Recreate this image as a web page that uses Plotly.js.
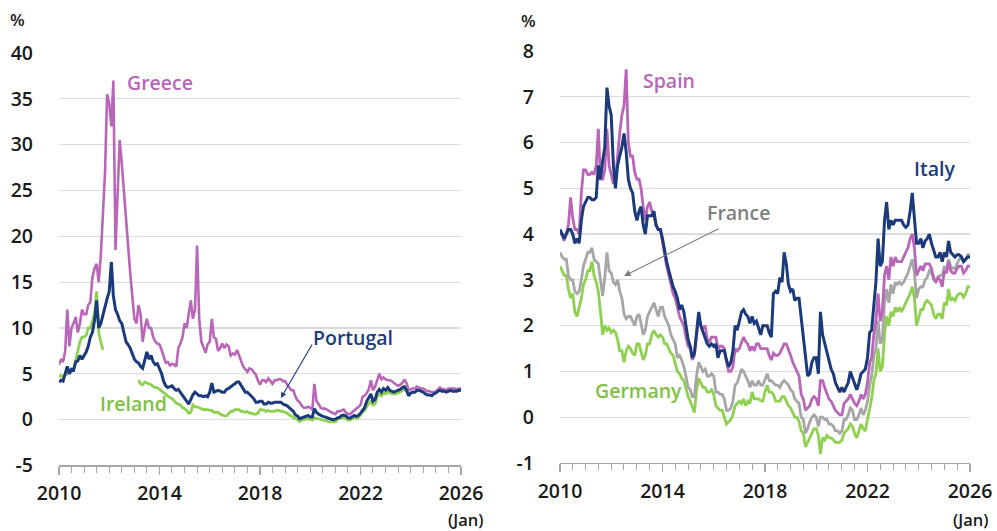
<!DOCTYPE html>
<html>
<head>
<meta charset="utf-8">
<script src="https://cdn.plot.ly/plotly-3.0.1.min.js"></script>
<style>html,body{margin:0;padding:0;background:#fff;}#chart{width:997px;height:531px;}</style>
</head>
<body>
<div id="chart"></div>
<script>
// ---- Data: monthly 10-year government bond yields (%), Jan 2010 – Jan 2026 ----
const startYear = 2010, endYear = 2026;
const months = [];
for (let y = startYear; y < endYear; y++) {
  for (let m = 1; m <= 12; m++) months.push(y + '-' + (m < 10 ? '0' + m : m) + '-01');
}
months.push('2026-01-01');

const greece = [
  6.0, 6.6, 6.3, 7.5, 12.0, 8.0, 10.0, 10.5, 11.2, 9.5, 10.5, 12.0,
  11.5, 11.5, 12.5, 12.8, 15.5, 16.5, 17.0, 15.0, 18.0, 23.0, 27.0, 35.5,
  34.5, 32.0, 37.0, 18.5, 24.5, 30.5, 28.0, 25.0, 21.0, 18.5, 16.0, 13.5,
  11.0, 10.5, 12.5, 11.5, 8.5, 10.0, 11.0, 10.0, 10.0, 9.0, 8.5, 8.3,
  8.2, 7.6, 7.0, 6.2, 6.3, 5.9, 6.1, 6.0, 5.8, 7.8, 8.3, 9.0,
  10.5, 10.0, 11.5, 13.0, 11.0, 12.0, 19.0, 11.0, 8.5, 7.8, 7.3, 8.2,
  8.5, 11.0, 9.0, 8.8, 7.5, 7.8, 8.3, 7.8, 8.2, 8.0, 7.0, 7.2,
  7.1, 7.6, 7.0, 6.5, 5.8, 5.5, 5.2, 5.6, 5.5, 5.2, 4.9, 4.3,
  3.8, 4.3, 4.3, 4.1, 4.5, 4.2, 3.9, 4.3, 4.3, 4.4, 4.4, 4.2,
  4.2, 3.8, 3.5, 3.2, 3.2, 2.5, 2.1, 1.9, 1.5, 1.3, 1.3, 1.4,
  1.3, 1.1, 3.9, 2.0, 1.7, 1.3, 1.2, 1.2, 1.1, 0.9, 0.8, 0.7,
  0.6, 0.9, 0.9, 1.0, 1.1, 0.8, 0.6, 0.6, 0.8, 1.0, 1.2, 1.3,
  1.6, 2.5, 2.6, 2.9, 3.3, 4.3, 3.2, 3.6, 4.4, 5.0, 4.4, 4.6,
  4.4, 4.3, 4.3, 4.2, 4.0, 3.8, 3.7, 3.8, 4.0, 4.4, 4.0, 3.2,
  3.3, 3.4, 3.4, 3.6, 3.5, 3.4, 3.4, 3.2, 3.1, 3.1, 3.0, 3.0,
  3.1, 3.3, 3.5, 3.3, 3.3, 3.2, 3.4, 3.4, 3.4, 3.4, 3.3, 3.4,
  3.4
];
const portugal = [
  4.1, 4.3, 4.2, 5.0, 5.8, 5.0, 5.5, 5.4, 6.3, 6.4, 7.0, 6.6,
  7.0, 7.4, 8.0, 9.0, 9.5, 10.8, 13.0, 10.0, 10.5, 11.5, 12.5, 13.2,
  14.0, 17.2, 13.5, 12.0, 11.5, 10.8, 10.5, 9.5, 8.5, 8.2, 7.8, 7.2,
  6.6, 6.3, 6.2, 5.8, 5.6, 6.5, 7.4, 6.6, 7.0, 6.3, 6.0, 6.1,
  5.6, 5.0, 4.2, 3.7, 3.5, 3.6, 3.7, 3.4, 3.2, 3.3, 3.0, 2.7,
  2.4, 2.0, 1.7, 2.2, 2.7, 3.0, 2.8, 2.6, 2.6, 2.5, 2.6, 2.5,
  3.0, 4.0, 3.0, 3.1, 3.2, 3.1, 3.0, 3.0, 3.3, 3.4, 3.6, 3.7,
  4.0, 4.1, 4.1, 3.7, 3.3, 3.0, 3.0, 2.8, 2.6, 2.3, 1.9, 1.9,
  2.0, 2.0, 1.7, 1.7, 1.9, 1.8, 1.8, 1.9, 1.9, 1.9, 1.9, 1.7,
  1.6, 1.5, 1.3, 1.1, 0.9, 0.5, 0.4, 0.1, 0.2, 0.25, 0.4, 0.45,
  0.3, 0.3, 1.2, 0.8, 0.6, 0.45, 0.35, 0.3, 0.2, 0.1, 0.05, 0.0,
  0.05, 0.2, 0.25, 0.45, 0.5, 0.4, 0.2, 0.15, 0.3, 0.45, 0.35, 0.45,
  0.7, 1.1, 1.3, 2.0, 2.4, 2.8, 2.0, 2.2, 3.0, 3.3, 3.0, 3.4,
  3.2, 3.5, 3.2, 3.1, 3.0, 3.1, 3.2, 3.3, 3.5, 3.6, 3.2, 2.6,
  2.9, 3.0, 3.0, 3.2, 3.2, 3.1, 3.0, 2.8, 2.7, 2.7, 2.6, 2.8,
  2.9, 3.1, 3.2, 3.1, 3.1, 3.0, 3.1, 3.2, 3.1, 3.1, 3.1, 3.2,
  3.2
];
const ireland = [
  4.7, 4.8, 4.6, 4.9, 5.0, 5.3, 5.3, 5.5, 6.5, 7.5, 8.5, 9.0,
  9.0, 9.2, 10.0, 10.0, 10.7, 11.5, 14.0, 9.5, 8.5, 7.6, null, null,
  null, null, null, null, null, null, null, null, null, null, null, null,
  null, null, 4.3, 3.9, 3.8, 4.1, 4.0, 3.9, 3.8, 3.6, 3.5, 3.5,
  3.3, 3.1, 3.0, 2.8, 2.6, 2.4, 2.3, 2.0, 1.8, 1.7, 1.6, 1.3,
  1.2, 1.0, 0.7, 0.8, 1.6, 1.4, 1.4, 1.3, 1.2, 1.1, 1.1, 1.1,
  1.0, 1.0, 0.8, 0.8, 0.8, 0.6, 0.5, 0.4, 0.4, 0.6, 0.9, 0.9,
  1.1, 1.1, 1.1, 0.9, 0.9, 0.8, 0.9, 0.7, 0.7, 0.6, 0.6, 0.7,
  1.1, 1.1, 1.0, 0.9, 1.0, 0.9, 0.9, 0.9, 1.0, 1.0, 0.9, 0.9,
  0.8, 0.7, 0.5, 0.4, 0.2, 0.15, 0.0, -0.2, -0.05, 0.0, 0.05, 0.1,
  0.05, -0.05, 0.2, 0.15, 0.1, 0.05, -0.05, -0.1, -0.15, -0.25, -0.25, -0.3,
  -0.25, 0.05, 0.1, 0.15, 0.25, 0.15, -0.05, -0.05, 0.1, 0.25, 0.15, 0.2,
  0.5, 0.9, 1.0, 1.5, 1.8, 2.0, 1.6, 1.7, 2.5, 2.8, 2.6, 2.9,
  2.8, 3.0, 2.9, 2.8, 2.8, 2.8, 2.9, 3.0, 3.2, 3.3, 3.1, null,
  null, null, null, null, null, null, null, null, null, null, null, null,
  null, null, null, null, null, null, null, null, null, null, null, null,
  null
];
const spain = [
  4.0, 4.0, 3.85, 4.0, 4.2, 4.8, 4.35, 4.1, 4.1, 4.0, 4.9, 5.4,
  5.4, 5.3, 5.3, 5.35, 5.3, 5.5, 6.3, 5.2, 5.2, 5.4, 6.3, 5.5,
  5.3, 5.1, 5.2, 5.8, 6.2, 6.6, 6.8, 7.6, 6.0, 5.7, 5.7, 5.35,
  5.2, 5.2, 5.0, 4.6, 4.3, 4.6, 4.7, 4.5, 4.4, 4.2, 4.1, 4.1,
  3.8, 3.6, 3.3, 3.1, 2.9, 2.7, 2.6, 2.4, 2.2, 2.1, 2.0, 1.75,
  1.55, 1.5, 1.25, 1.35, 1.8, 2.2, 2.0, 1.95, 2.0, 1.7, 1.65, 1.75,
  1.75, 1.75, 1.5, 1.55, 1.55, 1.5, 1.2, 1.0, 1.0, 1.1, 1.5, 1.45,
  1.5, 1.65, 1.75, 1.65, 1.6, 1.45, 1.55, 1.45, 1.6, 1.6, 1.5, 1.5,
  1.5, 1.5, 1.35, 1.25, 1.4, 1.35, 1.35, 1.4, 1.5, 1.6, 1.6, 1.45,
  1.35, 1.2, 1.1, 1.0, 0.9, 0.5, 0.4, 0.15, 0.2, 0.25, 0.4, 0.45,
  0.4, 0.25, 0.8, 0.8, 0.65, 0.5, 0.4, 0.35, 0.25, 0.15, 0.1, 0.05,
  0.05, 0.3, 0.35, 0.4, 0.5, 0.4, 0.3, 0.25, 0.35, 0.5, 0.4, 0.5,
  0.75, 1.2, 1.3, 1.8, 2.1, 2.7, 2.1, 2.3, 3.1, 3.3, 3.0, 3.5,
  3.3, 3.5, 3.4, 3.4, 3.4, 3.5, 3.6, 3.7, 3.9, 4.0, 3.7, 3.1,
  3.2, 3.3, 3.2, 3.35, 3.35, 3.35, 3.25, 3.05, 2.95, 3.05, 3.0, 2.85,
  3.2, 3.15, 3.4, 3.2, 3.15, 3.15, 3.25, 3.3, 3.3, 3.15, 3.2, 3.3,
  3.3
];
const italy = [
  4.1, 4.0, 3.9, 4.0, 4.1, 4.1, 4.0, 3.8, 3.9, 3.8, 4.3, 4.6,
  4.7, 4.8, 4.8, 4.75, 4.75, 4.8, 5.5, 5.2, 5.6, 5.9, 7.2, 6.8,
  6.6, 5.5, 5.0, 5.5, 5.7, 5.9, 6.2, 5.8, 5.2, 5.0, 4.9, 4.5,
  4.3, 4.5, 4.6, 4.2, 4.0, 4.4, 4.4, 4.4, 4.5, 4.2, 4.1, 4.1,
  3.9, 3.6, 3.4, 3.2, 3.0, 2.85, 2.75, 2.6, 2.35, 2.45, 2.3, 1.95,
  1.7, 1.55, 1.3, 1.4, 1.8, 2.3, 2.0, 1.85, 1.75, 1.6, 1.55, 1.6,
  1.55, 1.6, 1.3, 1.45, 1.45, 1.45, 1.25, 1.1, 1.2, 1.45, 2.0, 1.9,
  2.1, 2.3, 2.35, 2.25, 2.2, 2.05, 2.2, 2.05, 2.1, 1.95, 1.8, 2.0,
  2.0, 2.0, 1.85, 1.75, 2.7, 2.75, 2.7, 3.05, 2.95, 3.6, 3.35, 2.9,
  2.75, 2.8, 2.55, 2.6, 2.6, 2.2, 1.7, 1.4, 0.9, 0.95, 1.2, 1.3,
  1.3, 0.95, 2.3, 1.8, 1.6, 1.4, 1.2, 1.05, 0.95, 0.75, 0.65, 0.55,
  0.65, 0.55, 0.65, 0.75, 1.0, 0.85, 0.7, 0.6, 0.75, 0.95, 1.0, 1.05,
  1.3, 1.85, 1.9, 2.5, 2.95, 3.9, 3.3, 3.4, 4.3, 4.7, 4.1, 4.3,
  4.2, 4.3, 4.3, 4.3, 4.3, 4.2, 4.15, 4.2, 4.5, 4.9, 4.4, 3.8,
  3.8, 3.9, 3.7, 3.85, 3.9, 4.0, 3.8, 3.65, 3.5, 3.5, 3.6, 3.4,
  3.6, 3.5, 3.85, 3.6, 3.55, 3.5, 3.55, 3.55, 3.5, 3.4, 3.45, 3.5,
  3.5
];
const france = [
  3.6, 3.5, 3.45, 3.45, 3.1, 3.0, 3.0, 2.75, 2.7, 2.75, 3.0, 3.3,
  3.45, 3.6, 3.6, 3.7, 3.45, 3.4, 3.35, 3.0, 2.65, 3.05, 3.6, 3.2,
  3.15, 2.95, 2.9, 3.0, 2.75, 2.6, 2.25, 2.15, 2.2, 2.2, 2.1, 2.0,
  2.2, 2.25, 2.05, 1.8, 1.9, 2.2, 2.3, 2.4, 2.5, 2.35, 2.2, 2.4,
  2.4, 2.2, 2.1, 2.0, 1.8, 1.7, 1.6, 1.3, 1.35, 1.25, 1.1, 0.9,
  0.65, 0.6, 0.45, 0.45, 0.9, 1.2, 1.1, 1.0, 1.05, 0.9, 0.9, 0.95,
  0.9, 0.55, 0.55, 0.5, 0.5, 0.4, 0.15, 0.15, 0.2, 0.35, 0.7, 0.75,
  0.9, 1.05, 1.0, 0.9, 0.8, 0.65, 0.8, 0.7, 0.7, 0.8, 0.7, 0.7,
  0.85, 0.95, 0.8, 0.8, 0.75, 0.7, 0.7, 0.65, 0.75, 0.8, 0.75, 0.7,
  0.6, 0.55, 0.4, 0.35, 0.3, 0.0, -0.05, -0.35, -0.25, -0.1, 0.0, 0.05,
  0.0, -0.2, 0.0, 0.0, -0.05, -0.05, -0.15, -0.15, -0.2, -0.3, -0.3, -0.35,
  -0.3, -0.05, -0.05, 0.05, 0.2, 0.15, -0.05, -0.05, 0.05, 0.2, 0.05, 0.15,
  0.35, 0.7, 0.9, 1.35, 1.5, 2.1, 1.6, 1.7, 2.5, 2.8, 2.5, 2.9,
  2.7, 2.95, 2.9, 2.95, 2.9, 2.95, 3.05, 3.15, 3.3, 3.45, 3.15, 2.6,
  2.8, 2.85, 2.85, 3.0, 3.05, 3.2, 3.15, 3.0, 2.95, 3.05, 3.1, 3.1,
  3.3, 3.2, 3.45, 3.3, 3.25, 3.25, 3.35, 3.45, 3.5, 3.4, 3.45, 3.55,
  3.55
];
const germany = [
  3.3, 3.2, 3.1, 3.1, 2.8, 2.6, 2.7, 2.3, 2.2, 2.4, 2.6, 2.9,
  3.0, 3.2, 3.2, 3.4, 3.1, 2.95, 2.75, 2.3, 1.8, 2.0, 1.9, 1.95,
  1.85, 1.9, 1.85, 1.7, 1.45, 1.45, 1.2, 1.45, 1.55, 1.5, 1.4, 1.35,
  1.6, 1.6, 1.4, 1.25, 1.35, 1.6, 1.6, 1.8, 1.9, 1.8, 1.75, 1.8,
  1.75, 1.6, 1.6, 1.5, 1.4, 1.35, 1.2, 1.0, 0.95, 0.85, 0.8, 0.6,
  0.45, 0.35, 0.25, 0.1, 0.6, 0.85, 0.75, 0.65, 0.65, 0.55, 0.55, 0.6,
  0.5, 0.25, 0.2, 0.15, 0.15, 0.0, -0.15, -0.1, -0.05, 0.05, 0.25, 0.3,
  0.35, 0.3, 0.4, 0.25, 0.35, 0.3, 0.55, 0.4, 0.4, 0.4, 0.36, 0.35,
  0.55, 0.7, 0.55, 0.55, 0.5, 0.35, 0.35, 0.35, 0.45, 0.45, 0.35, 0.25,
  0.2, 0.1, 0.0, 0.0, -0.1, -0.3, -0.35, -0.65, -0.55, -0.45, -0.35, -0.25,
  -0.25, -0.4, -0.8, -0.45, -0.5, -0.4, -0.45, -0.45, -0.5, -0.55, -0.55, -0.55,
  -0.5, -0.35, -0.3, -0.25, -0.15, -0.2, -0.35, -0.45, -0.3, -0.15, -0.25, -0.3,
  -0.05, 0.2, 0.4, 0.8, 0.95, 1.5, 1.0, 1.1, 1.8, 2.2, 2.0, 2.3,
  2.2, 2.4, 2.3, 2.4, 2.3, 2.4, 2.5, 2.6, 2.7, 2.85, 2.6, 2.0,
  2.2, 2.35, 2.35, 2.5, 2.55, 2.5, 2.45, 2.25, 2.15, 2.25, 2.25, 2.15,
  2.5, 2.45, 2.8, 2.55, 2.6, 2.55, 2.65, 2.7, 2.7, 2.62, 2.7, 2.85,
  2.85
];

const tickVals = ['2010-01-01', '2014-01-01', '2018-01-01', '2022-01-01', '2026-01-01'];
const tickText = ['2010', '2014', '2018', '2022', '2026'];
const lastTickNote = '(Jan)';
const leftTicks = [-5, 0, 5, 10, 15, 20, 25, 30, 35, 40];
const leftTickText = ['-5', '0', '5', '10', '15', '20', '25', '30', '35', '40'];
const rightTicks = [-1, 0, 1, 2, 3, 4, 5, 6, 7, 8];
const rightTickText = ['-1', '0', '1', '2', '3', '4', '5', '6', '7', '8'];

// ---- Styles ----
const PINK = '#B966B9', NAVY = '#1B3A7C', GREEN = '#8ED14F', GRAY = '#A6A6A6';
const FONT = 'Open Sans, Noto Sans, sans-serif';

function line(x, y, color, xa, ya, w) {
  return { x: x, y: y, type: 'scatter', mode: 'lines', xaxis: xa, yaxis: ya,
           line: { color: color, width: w || 2.4 }, connectgaps: false, hoverinfo: 'skip', showlegend: false };
}

const traces = [
  line(months, greece, PINK, 'x', 'y', 2.6),
  line(months, ireland, GREEN, 'x', 'y', 2.8),
  line(months, portugal, NAVY, 'x', 'y', 3.0),
  line(months, germany, GREEN, 'x2', 'y2', 2.8),
  line(months, france, GRAY, 'x2', 'y2', 2.8),
  line(months, spain, PINK, 'x2', 'y2', 2.8),
  line(months, italy, NAVY, 'x2', 'y2', 3.0)
];

const tickFont = { family: FONT, size: 19.5, color: '#1a1a1a', weight: 600 };

function xAxis(domain, anchor) {
  return {
    type: 'date', domain: domain, anchor: anchor,
    range: ['2010-01-01', '2026-01-01'],
    tickmode: 'array', tickvals: tickVals, ticktext: tickText,
    ticks: 'outside', ticklen: 8, tickcolor: '#A6A6A6', tickwidth: 1.2,
    minor: { ticks: 'outside', ticklen: 6, tickcolor: '#A6A6A6', tickwidth: 1, tick0: '2010-01-01', dtick: 'M6', showgrid: false },
    showline: true, linecolor: '#A6A6A6', linewidth: 1.5,
    showgrid: false, zeroline: false, fixedrange: true,
    tickfont: tickFont, ticklabelstandoff: 2, automargin: false
  };
}
function xOverlay(over, anchor) {
  return {
    type: 'date', overlaying: over, anchor: anchor,
    range: ['2010-01-01', '2026-01-01'],
    tickmode: 'array', tickvals: tickVals,
    ticks: 'inside', ticklen: 6, tickcolor: '#A6A6A6', tickwidth: 1.2,
    showticklabels: false, showline: false, showgrid: false, zeroline: false, automargin: false
  };
}
function yAxis(domain, anchor, range, vals, texts) {
  return {
    domain: domain, anchor: anchor, range: range,
    tickmode: 'array', tickvals: vals, ticktext: texts,
    showgrid: true, gridcolor: '#DCDCDC', gridwidth: 1.2,
    zeroline: false, showline: false, ticks: '',
    tickfont: tickFont, ticklabelstandoff: 25, automargin: false, fixedrange: true
  };
}

function label(text, x, y, color) {
  return { text: text, xref: 'paper', yref: 'paper', x: x, y: y, xanchor: 'center', yanchor: 'middle',
           showarrow: false, font: { family: FONT, size: 19.5, color: color, weight: 600 } };
}
function note(x) {
  return { text: lastTickNote, xref: 'paper', yref: 'paper', x: x, y: 0.021, xanchor: 'center', yanchor: 'middle',
           showarrow: false, font: { family: FONT, size: 16.5, color: '#1a1a1a', weight: 600 } };
}

const layout = {
  width: 997, height: 531, autosize: false,
  margin: { l: 0, r: 0, t: 0, b: 0 },
  paper_bgcolor: '#ffffff', plot_bgcolor: '#ffffff',
  showlegend: false,
  xaxis: xAxis([0.0592, 0.4624], 'y'),
  yaxis: yAxis([0.1234, 0.9002], 'x', [-5, 40], leftTicks, leftTickText),
  xaxis2: xAxis([0.5617, 0.9729], 'y2'),
  yaxis2: yAxis([0.1281, 0.9040], 'x2', [-1, 8], rightTicks, rightTickText),
  xaxis3: xOverlay('x', 'y'),
  xaxis4: xOverlay('x2', 'y2'),
  annotations: [
    { text: '%', xref: 'paper', yref: 'paper', x: 0.018, y: 0.964, xanchor: 'center', yanchor: 'middle', showarrow: false,
      font: { family: FONT, size: 17, color: '#1a1a1a', weight: 600 } },
    { text: '%', xref: 'paper', yref: 'paper', x: 0.5296, y: 0.962, xanchor: 'center', yanchor: 'middle', showarrow: false,
      font: { family: FONT, size: 17, color: '#1a1a1a', weight: 600 } },
    note(0.4664),
    note(0.9739),
    label('Greece', 0.1605, 0.8437, '#B966B9'),
    label('Portugal', 0.3536, 0.3635, '#1B3A7C'),
    label('Ireland', 0.1339, 0.2392, '#7DC142'),
    label('Spain', 0.671, 0.8475, '#B966B9'),
    label('Italy', 0.9373, 0.6836, '#1B3A7C'),
    label('France', 0.7407, 0.5989, '#7F7F7F'),
    label('Germany', 0.6409, 0.2637, '#7DC142'),
    { text: '', xref: 'paper', yref: 'paper', x: 0.2818, y: 0.2505, ax: 32, ay: -55,
      showarrow: true, arrowhead: 2, arrowsize: 1, arrowwidth: 1.1, arrowcolor: '#1B3A7C' },
    { text: '', xref: 'paper', yref: 'paper', x: 0.6259, y: 0.4802, ax: 96, ay: -48,
      showarrow: true, arrowhead: 2, arrowsize: 1.2, arrowwidth: 1.1, arrowcolor: '#7F7F7F' }
  ]
};

Plotly.newPlot('chart', traces, layout, { staticPlot: true, displayModeBar: false });
</script>
</body>
</html>
